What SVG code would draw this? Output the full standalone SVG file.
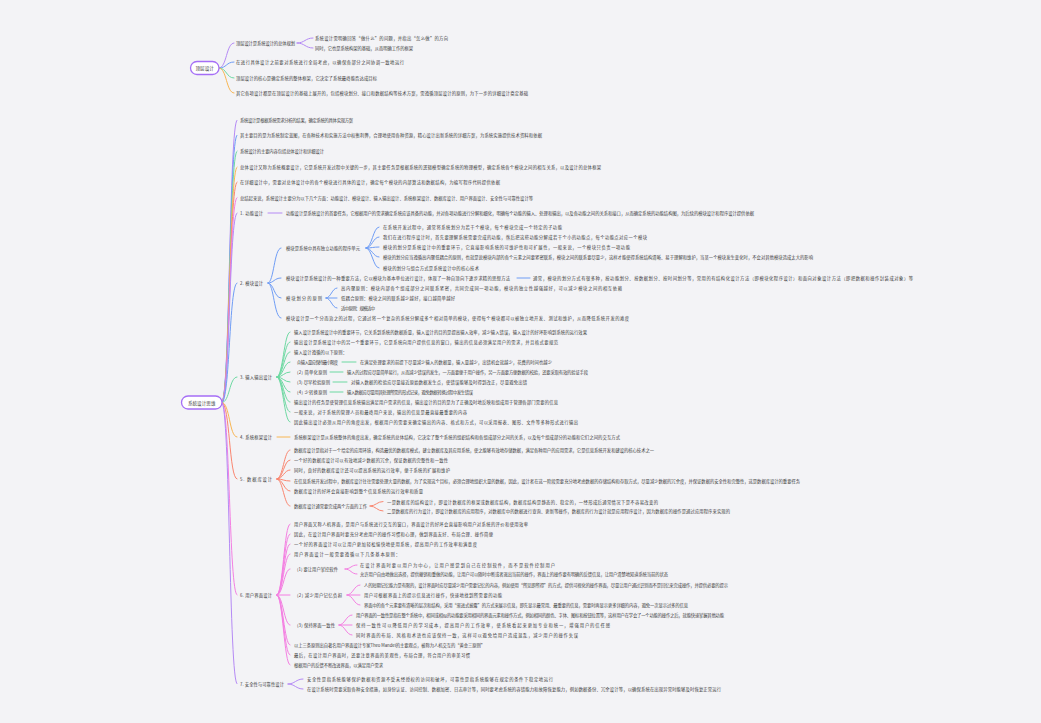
<svg xmlns="http://www.w3.org/2000/svg" width="1041" height="723" viewBox="0 0 1041 723">
<style>
text{font-family:"Noto Sans CJK SC","Noto Sans",sans-serif;font-size:4.3px;fill:#3a3a3a;dominant-baseline:central}
.c{fill:none;stroke-width:1;stroke-linecap:round}
.pu{stroke:#b58af5}.bl{stroke:#6f9df5}.gr{stroke:#6dd9a2}.or{stroke:#f8b653}.rd{stroke:#fa8670}.pk{stroke:#f47fe2}
.root rect{fill:#fff;stroke:#a56ef6;stroke-width:1.3}
.root text{font-size:4.6px;text-anchor:middle}
</style>
<rect width="1041" height="723" fill="#f3f3f6"/>
<g id="connectors">
<path class="c pu" d="M219 68 C227 68 226 43 234 43"/>
<path class="c bl" d="M219 68 C227 68 226 62 234 62"/>
<path class="c gr" d="M219 68 C227 68 226 78 234 78"/>
<path class="c or" d="M219 68 C227 68 226 93 234 93"/>
<path class="c pu" d="M297 43 C305 43 305 38 313 38"/>
<path class="c pu" d="M297 43 C305 43 305 48 313 48"/>
<path class="c pu" d="M222 402.5 C230 402.5 229 120 237 120"/>
<path class="c bl" d="M222 402.5 C230 402.5 229 135 237 135"/>
<path class="c gr" d="M222 402.5 C230 402.5 229 151 237 151"/>
<path class="c or" d="M222 402.5 C230 402.5 229 167 237 167"/>
<path class="c rd" d="M222 402.5 C230 402.5 229 182 237 182"/>
<path class="c pk" d="M222 402.5 C230 402.5 229 197.5 237 197.5"/>
<path class="c pu" d="M222 402.5 C230 402.5 229 213 237 213"/>
<path class="c bl" d="M222 402.5 C230 402.5 229 283 237 283"/>
<path class="c gr" d="M222 402.5 C230 402.5 229 377 237 377"/>
<path class="c or" d="M222 402.5 C230 402.5 229 437 237 437"/>
<path class="c rd" d="M222 402.5 C230 402.5 229 479 237 479"/>
<path class="c pk" d="M222 402.5 C230 402.5 229 595 237 595"/>
<path class="c pu" d="M222 402.5 C230 402.5 229 684 237 684"/>
<path class="c pu" d="M268 213 L282 213"/>
<path class="c bl" d="M268 283 C274 283 274 248 281 248"/>
<path class="c bl" d="M268 283 C274 283 274 278 281 278"/>
<path class="c bl" d="M268 283 C274 283 274 298 281 298"/>
<path class="c bl" d="M268 283 C274 283 274 318 281 318"/>
<path class="c bl" d="M366 248 C372 248 373 227 379 227"/>
<path class="c bl" d="M366 248 C372 248 373 237 379 237"/>
<path class="c bl" d="M366 248 C372 248 373 247 379 247"/>
<path class="c bl" d="M366 248 C372 248 373 257 379 257"/>
<path class="c bl" d="M366 248 C372 248 373 268 379 268"/>
<path class="c bl" d="M517 278 L530 278"/>
<path class="c bl" d="M326 298 C331 298 332 288 337 288"/>
<path class="c bl" d="M326 298 L337 298"/>
<path class="c bl" d="M326 298 C331 298 332 308 337 308"/>
<path class="c gr" d="M277 377 C283 377 284 332 290 332"/>
<path class="c gr" d="M277 377 C283 377 284 342 290 342"/>
<path class="c gr" d="M277 377 C283 377 284 352 290 352"/>
<path class="c gr" d="M277 377 C283 377 284 362 290 362"/>
<path class="c gr" d="M277 377 C283 377 284 372 290 372"/>
<path class="c gr" d="M277 377 C283 377 284 382 290 382"/>
<path class="c gr" d="M277 377 C283 377 284 392 290 392"/>
<path class="c gr" d="M277 377 C283 377 284 402 290 402"/>
<path class="c gr" d="M277 377 C283 377 284 412 290 412"/>
<path class="c gr" d="M277 377 C283 377 284 422 290 422"/>
<path class="c gr" d="M342 362 L356 362"/>
<path class="c gr" d="M330 372 L343 372"/>
<path class="c gr" d="M333 382 L347 382"/>
<path class="c gr" d="M330 392 L343 392"/>
<path class="c or" d="M277 437 L290 437"/>
<path class="c rd" d="M277 479 C283 479 284 450 290 450"/>
<path class="c rd" d="M277 479 C283 479 284 460 290 460"/>
<path class="c rd" d="M277 479 C283 479 284 470 290 470"/>
<path class="c rd" d="M277 479 C283 479 284 481 290 481"/>
<path class="c rd" d="M277 479 C283 479 284 491 290 491"/>
<path class="c rd" d="M277 479 C283 479 284 506 290 506"/>
<path class="c rd" d="M370 506 C376 506 377 501.5 383 501.5"/>
<path class="c rd" d="M370 506 C376 506 377 511 383 511"/>
<path class="c pk" d="M277 595 C283 595 284 524 290 524"/>
<path class="c pk" d="M277 595 C283 595 284 534 290 534"/>
<path class="c pk" d="M277 595 C283 595 284 544 290 544"/>
<path class="c pk" d="M277 595 C283 595 284 554 290 554"/>
<path class="c pk" d="M277 595 C283 595 284 569 290 569"/>
<path class="c pk" d="M277 595 L290 595"/>
<path class="c pk" d="M277 595 C283 595 284 625 290 625"/>
<path class="c pk" d="M277 595 C283 595 284 645 290 645"/>
<path class="c pk" d="M277 595 C283 595 284 655 290 655"/>
<path class="c pk" d="M277 595 C283 595 284 665 290 665"/>
<path class="c pk" d="M345 569 C351 569 351 565 357 565"/>
<path class="c pk" d="M345 569 C351 569 351 574 357 574"/>
<path class="c pk" d="M347 595 C353 595 354 585 360 585"/>
<path class="c pk" d="M347 595 L360 595"/>
<path class="c pk" d="M347 595 C353 595 354 605 360 605"/>
<path class="c pk" d="M339 625 C345 625 346 615 352 615"/>
<path class="c pk" d="M339 625 L352 625"/>
<path class="c pk" d="M339 625 C345 625 346 635 352 635"/>
<path class="c pu" d="M288 684 C295 684 296 679 303 679"/>
<path class="c pu" d="M288 684 C295 684 296 689 303 689"/>
</g>
<g id="top-root" class="root"><rect x="190.5" y="61.5" width="28.5" height="13" rx="6.5"/><text x="204.7" y="68">顶层设计</text></g>
<g id="t1"><text x="236" y="43" textLength="59">顶层设计是系统设计的总体规划</text></g>
<g id="t1a"><text x="315" y="38" textLength="133">系统设计需明确回答“做什么”的问题，并指出“怎么做”的方向</text></g>
<g id="t1b"><text x="315" y="48" textLength="98">同时，它也是系统构架的基础，从而明确工作的框架</text></g>
<g id="t2"><text x="236" y="62" textLength="168">在进行具体设计之前要对系统进行全局考虑，以确保各部分之间协调一致地运行</text></g>
<g id="t3"><text x="236" y="78" textLength="141">顶层设计的核心是确定系统的整体框架，它决定了系统最终能否达成目标</text></g>
<g id="t4"><text x="236" y="93" textLength="292">其它各项设计都是在顶层设计的基础上展开的，包括模块划分、接口和数据结构等技术方案，需遵循顶层设计的原则，为下一步的详细设计奠定基础</text></g>
<g id="root" class="root"><rect x="181.5" y="396" width="40.5" height="13" rx="6.5"/><text x="201.7" y="402.5">系统设计思维</text></g>
<g id="p1"><text x="240" y="120" textLength="113">系统设计是根据系统需求分析的结果，确定系统的具体实现方案</text></g>
<g id="p2"><text x="240" y="135" textLength="302">其主要目的是为系统制定蓝图，在各种技术和实施方法中权衡利弊，合理地使用各种资源，精心设计出新系统的详细方案，为系统实施提供技术资料和依据</text></g>
<g id="p3"><text x="240" y="151" textLength="84">系统设计的主要内容包括总体设计和详细设计</text></g>
<g id="p4"><text x="240" y="167" textLength="361">总体设计又称为系统概要设计，它是系统开发过程中关键的一步，其主要任务是根据系统的逻辑模型确定系统的物理模型，确定系统各个模块之间的相互关系，以及设计的总体框架</text></g>
<g id="p5"><text x="240" y="182" textLength="260">在详细设计中，需要对总体设计中的各个模块进行具体的设计，确定每个模块的内部算法和数据结构，为编写程序代码提供依据</text></g>
<g id="p6"><text x="240" y="197.5" textLength="293">总结起来说，系统设计主要分为以下几个方面：功能设计、模块设计、输入输出设计、系统框架设计、数据库设计、用户界面设计、安全性与可靠性设计等</text></g>
<g id="s1"><text x="240" y="213" textLength="23">1. 功能设计</text></g>
<g id="s1a"><text x="286" y="213" textLength="468">功能设计是系统设计的首要任务，它根据用户的需求确定系统应该具备的功能，并对各项功能进行分解和细化，明确每个功能的输入、处理和输出，以及各功能之间的关系和接口，从而确定系统的功能结构图，为后续的模块设计和程序设计提供依据</text></g>
<g id="s2"><text x="240" y="283" textLength="23">2. 模块设计</text></g>
<g id="s2a"><text x="286" y="248" textLength="74">模块是系统中具有独立功能的程序单元</text></g>
<g id="s2a1"><text x="383" y="227" textLength="179">在系统开发过程中，通常将系统划分为若干个模块，每个模块完成一个特定的子功能</text></g>
<g id="s2a2"><text x="383" y="237" textLength="264">我们在进行程序设计时，首先要理解系统需要完成的功能，然后把这些功能分解成若干个小的功能点，每个功能点对应一个模块</text></g>
<g id="s2a3"><text x="383" y="247" textLength="247">模块的划分是系统设计中的重要环节，它直接影响系统的可维护性和可扩展性，一般来说，一个模块只负责一项功能</text></g>
<g id="s2a4"><text x="383" y="257" textLength="430">模块的划分应当遵循高内聚低耦合的原则，也就是说模块内部的各个元素之间要紧密联系，模块之间的联系要尽量少，这样才能使得系统结构清晰、易于理解和维护，当某一个模块发生变化时，不会对其他模块造成太大的影响</text></g>
<g id="s2a5"><text x="383" y="268" textLength="96">模块的划分与组合方式是系统设计中的核心技术</text></g>
<g id="s2b"><text x="286" y="278" textLength="224">模块设计是系统设计的一种重要方法，它以模块为基本单位进行设计，体现了一种自顶向下逐步求精的思想方法</text></g>
<g id="s2b1"><text x="533" y="278" textLength="380">通常，模块的划分方式有很多种，按功能划分、按数据划分、按时间划分等，常用的有结构化设计方法（即模块化程序设计）和面向对象设计方法（即把数据和操作封装成对象）等</text></g>
<g id="s2c"><text x="286" y="298" textLength="36">模块划分的原则</text></g>
<g id="s2c1"><text x="341" y="288" textLength="281">高内聚原则：模块内部各个组成部分之间联系紧密，共同完成同一项功能，模块的独立性越强越好，可以减少模块之间的相互依赖</text></g>
<g id="s2c2"><text x="341" y="298" textLength="114">低耦合原则：模块之间的联系越少越好，接口越简单越好</text></g>
<g id="s2c3"><text x="341" y="308" textLength="34">适中原则：规模适中</text></g>
<g id="s2d"><text x="286" y="318" textLength="343">模块设计是一个分而治之的过程，它通过将一个复杂的系统分解成多个相对简单的模块，使得每个模块都可以被独立地开发、测试和维护，从而降低系统开发的难度</text></g>
<g id="s3"><text x="240" y="377" textLength="32">3. 输入输出设计</text></g>
<g id="s3a"><text x="294" y="332" textLength="293">输入设计是系统设计中的重要环节，它关系到系统的数据质量，输入设计的目的是提高输入效率，减少输入错误，输入设计的好坏影响到系统的运行效果</text></g>
<g id="s3b"><text x="294" y="342" textLength="264">输出设计是系统设计中的另一个重要环节，它是系统向用户提供信息的窗口，输出的信息必须满足用户的需求，并且格式要规范</text></g>
<g id="s3c"><text x="294" y="352" textLength="53">输入设计遵循的以下原则：</text></g>
<g id="s3d"><text x="297" y="362" textLength="41">(1) 输入量应保持最小限度</text></g>
<g id="s3d1"><text x="360" y="362" textLength="192">在满足处理要求的前提下尽量减少输入的数据量，输入量越少，出错机会就越少，花费的时间也越少</text></g>
<g id="s3e"><text x="297" y="372" textLength="30">(2) 简单化原则</text></g>
<g id="s3e1"><text x="347" y="372" textLength="241">输入的过程应尽量简单易行，从而减少错误的发生，一方面要便于用户操作，另一方面要方便数据的校验，还要采取有效的验证手段</text></g>
<g id="s3f"><text x="297" y="382" textLength="33">(3) 尽早检验原则</text></g>
<g id="s3f1"><text x="351" y="382" textLength="176">对输入数据的检验应尽量接近原始数据发生点，使错误能够及时得到改正，尽量避免出错</text></g>
<g id="s3g"><text x="297" y="392" textLength="30">(4) 少转换原则</text></g>
<g id="s3g1"><text x="347" y="392" textLength="126">输入数据应尽量用其处理所需的形式记录，避免数据转换过程中发生错误</text></g>
<g id="s3h"><text x="294" y="402" textLength="264">输出设计的任务是使管理信息系统输出满足用户需求的信息，输出设计的目的是为了正确及时地反映和组成用于管理各部门需要的信息</text></g>
<g id="s3i"><text x="294" y="412" textLength="173">一般来说，对于系统的管理人员和最终用户来说，输出的信息是最直接最重要的内容</text></g>
<g id="s3j"><text x="294" y="422" textLength="284">因此输出设计必须从用户的角度出发，根据用户的需要来确定输出的内容、格式和方式，可以采用报表、图形、文件等多种形式进行输出</text></g>
<g id="s4"><text x="240" y="437" textLength="32">4. 系统框架设计</text></g>
<g id="s4a"><text x="294" y="437" textLength="326">系统框架设计是从系统整体的角度出发，确定系统的总体结构，它决定了整个系统的组织结构和各组成部分之间的关系，以及每个组成部分的功能和它们之间的交互方式</text></g>
<g id="s5"><text x="240" y="479" textLength="32">5. 数据库设计</text></g>
<g id="s5a"><text x="294" y="450" textLength="360">数据库设计是指对于一个给定的应用环境，构造最优的数据库模式，建立数据库及其应用系统，使之能够有效地存储数据，满足各种用户的应用需求，它是信息系统开发和建设的核心技术之一</text></g>
<g id="s5b"><text x="294" y="460" textLength="154">一个好的数据库设计可以有效地减少数据的冗余，保证数据的完整性和一致性</text></g>
<g id="s5c"><text x="294" y="470" textLength="156">同时，良好的数据库设计还可以提高系统的运行效率，便于系统的扩展和维护</text></g>
<g id="s5d"><text x="294" y="481" textLength="506">在信息系统开发过程中，数据库设计往往需要处理大量的数据，为了实现这个目标，必须合理地组织大量的数据，因此，设计者在这一阶段需要充分地考虑数据的存储结构和存取方式，尽量减少数据的冗余度，并保证数据的安全性和完整性，这是数据库设计的重要任务</text></g>
<g id="s5e"><text x="294" y="491" textLength="129">数据库设计的好坏会直接影响到整个信息系统的运行效率和质量</text></g>
<g id="s5f"><text x="294" y="506" textLength="73">数据库设计通常要完成两个方面的工作</text></g>
<g id="s5f1"><text x="387" y="501.5" textLength="271">一是数据库的结构设计，即设计数据库的框架或数据库结构，数据库结构是静态的、稳定的，一经形成后通常情况下是不容易改变的</text></g>
<g id="s5f2"><text x="387" y="511" textLength="343">二是数据库的行为设计，即设计数据库的应用程序，对数据库中的数据进行查询、更新等操作，数据库的行为设计就是应用程序设计，因为数据库的操作是通过应用程序来实现的</text></g>
<g id="s6"><text x="240" y="595" textLength="32">6. 用户界面设计</text></g>
<g id="s6a"><text x="294" y="524" textLength="234">用户界面又称人机界面，是用户与系统进行交互的窗口，界面设计的好坏会直接影响用户对系统的评价和使用效率</text></g>
<g id="s6b"><text x="294" y="534" textLength="199">因此，在设计用户界面时要充分考虑用户的操作习惯和心理，做到界面友好、布局合理、操作简便</text></g>
<g id="s6c"><text x="294" y="544" textLength="183">一个好的界面设计可以让用户更加轻松愉快地使用系统，提高用户的工作效率和满意度</text></g>
<g id="s6d"><text x="294" y="554" textLength="106">用户界面设计一般需要遵循以下几条基本原则：</text></g>
<g id="s6e"><text x="297" y="569" textLength="41">(1) 要让用户掌控软件</text></g>
<g id="s6e1"><text x="360" y="565" textLength="195">在设计界面时要以用户为中心，让用户感觉到自己在控制软件，而不是软件控制用户</text></g>
<g id="s6e2"><text x="360" y="574" textLength="308">允许用户自由地做出选择，提供撤销和重做的功能，让用户可以随时中断或者退出当前的操作，界面上的操作要有明确的反馈信息，让用户清楚地知道系统当前的状态</text></g>
<g id="s6f"><text x="297" y="595" textLength="45">(2) 减少用户记忆负担</text></g>
<g id="s6f1"><text x="364" y="585" textLength="364">人的短期记忆能力是有限的，设计界面时应尽量减少用户需要记忆的内容，例如使用“所见即所得”的方式，提供可视化的操作界面，尽量让用户通过识别而不是回忆来完成操作，并提供必要的提示</text></g>
<g id="s6f2"><text x="364" y="595" textLength="138">用户可根据界面上的提示信息进行操作，快速地找到所需要的功能</text></g>
<g id="s6f3"><text x="364" y="605" textLength="324">界面中的各个元素要有清晰的层次和结构，采用“渐进式披露”的方式来展示信息，即先显示最常用、最重要的信息，需要时再显示更多详细的内容，避免一次显示过多的信息</text></g>
<g id="s6g"><text x="297" y="625" textLength="38">(3) 保持界面一致性</text></g>
<g id="s6g1"><text x="356" y="615" textLength="368">用户界面的一致性是指在整个系统中，相同或相似的功能要采用相同的界面元素和操作方式，例如相同的颜色、字体、图标和按钮位置等，这样用户在学会了一个功能的操作之后，就能快速掌握其他功能</text></g>
<g id="s6g2"><text x="356" y="625" textLength="254">保持一致性可以降低用户的学习成本，提高用户的工作效率，使系统看起来更加专业和统一，增强用户的信任感</text></g>
<g id="s6g3"><text x="356" y="635" textLength="222">同时界面的布局、风格和术语也应该保持一致，这样可以避免给用户造成混乱，减少用户的操作失误</text></g>
<g id="s6h"><text x="294" y="645" textLength="191">以上三条原则出自著名用户界面设计专家Theo Mandel的主要观点，被称为人机交互的“黄金三原则”</text></g>
<g id="s6i"><text x="294" y="655" textLength="176">最后，在设计用户界面时，还要注意界面的美观性，布局合理，符合用户的审美习惯</text></g>
<g id="s6j"><text x="294" y="665" textLength="89">根据用户的反馈不断改进界面，以满足用户需求</text></g>
<g id="s7"><text x="240" y="684" textLength="44">7. 安全性与可靠性设计</text></g>
<g id="s7a"><text x="307" y="679" textLength="246">安全性是指系统能够保护数据和资源不受未经授权的访问和破坏，可靠性是指系统能够在规定的条件下稳定地运行</text></g>
<g id="s7b"><text x="307" y="689" textLength="414">在设计系统时需要采取各种安全措施，如身份认证、访问控制、数据加密、日志审计等，同时要考虑系统的容错能力和故障恢复能力，例如数据备份、冗余设计等，以确保系统在出现异常时能够及时恢复正常运行</text></g>
</svg>
